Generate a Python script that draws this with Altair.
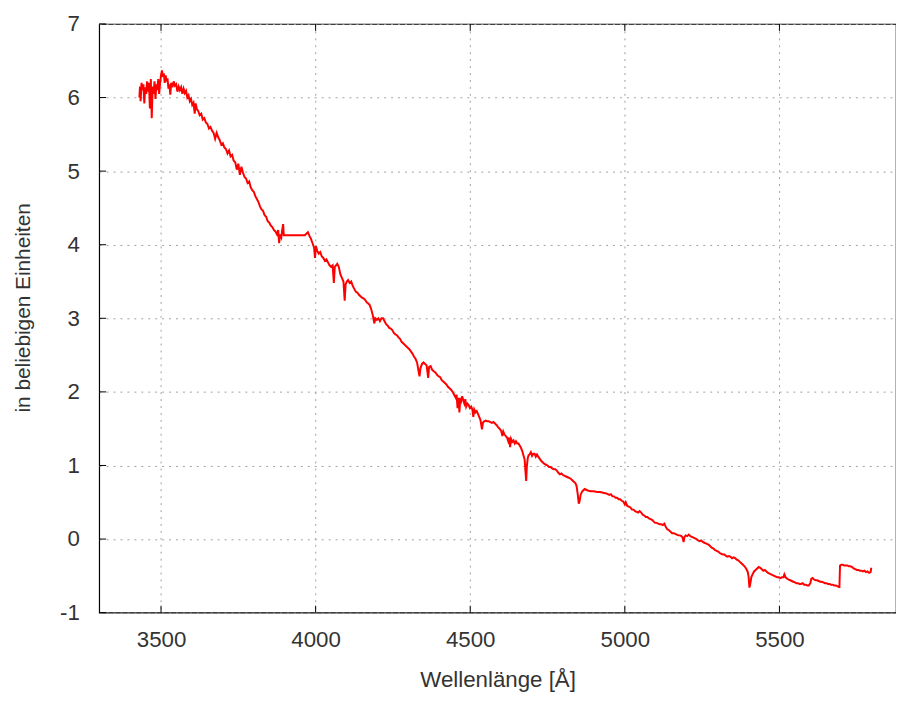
import altair as alt
import pandas as pd

wavelength = [
    3430, 3432, 3434, 3437, 3440, 3443, 3446, 3449, 3452, 3455, 3458, 3461, 3464, 3467, 3470,
    3473, 3476, 3479, 3482, 3485, 3488, 3491, 3494, 3497, 3500, 3503, 3506, 3509, 3512, 3515,
    3518, 3521, 3524, 3527, 3530, 3533, 3537, 3541, 3545, 3549, 3553, 3557, 3561, 3565, 3569,
    3573, 3577, 3581, 3585, 3589, 3593, 3597, 3601, 3605, 3609, 3612, 3616, 3620, 3625, 3630,
    3635, 3640, 3645, 3650, 3655, 3660, 3665, 3670, 3675, 3680, 3685, 3690, 3695, 3700, 3705,
    3710, 3715, 3720, 3725, 3730, 3735, 3740, 3745, 3750, 3755, 3760, 3765, 3770, 3775, 3780,
    3785, 3790, 3795, 3800, 3805, 3810, 3815, 3820, 3825, 3830, 3835, 3840, 3845, 3850, 3855,
    3860, 3865, 3870, 3875, 3879, 3882, 3885, 3889, 3892, 3895, 3897, 3900, 3965, 3970, 3975,
    3980, 3985, 3990, 3995, 3998, 4001, 4005, 4010, 4015, 4020, 4025, 4030, 4035, 4040, 4045,
    4050, 4055, 4059, 4062, 4066, 4070, 4075, 4080, 4085, 4090, 4094, 4097, 4101, 4105, 4110,
    4115, 4120, 4125, 4130, 4135, 4140, 4145, 4150, 4155, 4160, 4165, 4170, 4175, 4180, 4185,
    4190, 4193, 4198, 4203, 4208, 4213, 4218, 4223, 4228, 4233, 4238, 4243, 4248, 4253, 4258,
    4263, 4268, 4273, 4278, 4283, 4288, 4293, 4298, 4303, 4308, 4313, 4318, 4323, 4328, 4333,
    4336, 4339, 4344, 4349, 4354, 4359, 4364, 4367, 4372, 4377, 4382, 4388, 4393, 4398, 4403,
    4408, 4413, 4418, 4423, 4428, 4433, 4438, 4443, 4448, 4453, 4456, 4459, 4462, 4465, 4468,
    4471, 4474, 4478, 4481, 4484, 4487, 4491, 4495, 4499, 4503, 4507, 4510, 4513, 4517, 4521,
    4525, 4529, 4533, 4538, 4541, 4545, 4550, 4555, 4560, 4565, 4570, 4575, 4580, 4585, 4590,
    4595, 4600, 4604, 4607, 4611, 4615, 4619, 4623, 4626, 4629, 4632, 4636, 4640, 4644, 4648,
    4652, 4656, 4660, 4664, 4668, 4672, 4676, 4679, 4681, 4683, 4686, 4689, 4692, 4696, 4700,
    4704, 4708, 4712, 4716, 4720, 4725, 4730, 4735, 4740, 4745, 4750, 4755, 4760, 4765, 4770,
    4775, 4780, 4785, 4790, 4795, 4800, 4805, 4810, 4815, 4820, 4825, 4830, 4835, 4840, 4844,
    4848, 4851, 4854, 4857, 4861, 4865, 4870, 4875, 4880, 4890, 4900, 4910, 4920, 4930, 4940,
    4950, 4955, 4960, 4965, 4970, 4975, 4980, 4985, 4990, 4995, 5000, 5003, 5008, 5013, 5018,
    5023, 5028, 5033, 5038, 5043, 5048, 5053, 5058, 5063, 5068, 5073, 5078, 5083, 5088, 5093,
    5098, 5103, 5108, 5113, 5118, 5123, 5128, 5133, 5138, 5143, 5148, 5153, 5158, 5163, 5168,
    5173, 5178, 5183, 5187, 5190, 5193, 5197, 5202, 5207, 5212, 5217, 5222, 5227, 5232, 5237,
    5242, 5247, 5252, 5257, 5262, 5267, 5272, 5277, 5282, 5287, 5292, 5297, 5302, 5307, 5312,
    5317, 5322, 5327, 5332, 5337, 5342, 5347, 5352, 5357, 5362, 5367, 5372, 5377, 5382, 5387,
    5392, 5397, 5400, 5403, 5406, 5409, 5413, 5418, 5423, 5428, 5433, 5438, 5443, 5448, 5453,
    5458, 5463, 5468, 5473, 5478, 5483, 5488, 5493, 5498, 5503, 5508, 5513, 5516, 5520, 5525,
    5530, 5535, 5540, 5545, 5550, 5555, 5560, 5565, 5570, 5575, 5580, 5585, 5590, 5595, 5600,
    5603, 5607, 5612, 5617, 5622, 5627, 5632, 5637, 5642, 5647, 5652, 5657, 5662, 5667, 5672,
    5677, 5682, 5687, 5692, 5694, 5696, 5700, 5705, 5710, 5715, 5720, 5725, 5730, 5735, 5740,
    5745, 5750, 5755, 5760, 5765, 5770, 5775, 5780, 5785, 5790, 5795, 5797,
]

flux = [
    6.00, 6.15, 5.95, 6.20, 6.10, 6.18, 5.92, 6.14, 6.05, 6.22, 6.08, 6.20, 5.85, 6.25, 5.72,
    6.15, 6.05, 6.22, 5.98, 6.18, 6.10, 6.25, 6.05, 6.20, 6.30, 6.37, 6.28, 6.33, 6.20, 6.30,
    6.22, 6.26, 6.12, 6.18, 6.04, 6.20, 6.14, 6.22, 6.16, 6.18, 6.08, 6.15, 6.10, 6.14, 6.05,
    6.12, 6.06, 6.09, 6.00, 6.03, 5.95, 5.98, 5.90, 5.93, 5.78, 5.92, 5.84, 5.82, 5.76, 5.78,
    5.70, 5.72, 5.66, 5.64, 5.58, 5.60, 5.55, 5.52, 5.44, 5.52, 5.46, 5.42, 5.36, 5.38, 5.32,
    5.30, 5.24, 5.28, 5.20, 5.22, 5.14, 5.12, 5.02, 5.10, 4.95, 5.06, 4.98, 4.92, 4.90, 4.84,
    4.86, 4.78, 4.74, 4.72, 4.66, 4.62, 4.58, 4.52, 4.48, 4.46, 4.40, 4.38, 4.32, 4.30, 4.26,
    4.24, 4.20, 4.18, 4.14, 4.20, 4.02, 4.14, 4.10, 4.20, 4.28, 4.13, 4.13, 4.13, 4.15, 4.17,
    4.12, 4.08, 4.02, 3.96, 3.82, 3.98, 3.92, 3.88, 3.90, 3.84, 3.82, 3.78, 3.80, 3.76, 3.72,
    3.70, 3.72, 3.48, 3.70, 3.72, 3.74, 3.70, 3.60, 3.55, 3.50, 3.24, 3.46, 3.50, 3.52, 3.48,
    3.50, 3.44, 3.40, 3.36, 3.35, 3.32, 3.30, 3.28, 3.27, 3.25, 3.22, 3.20, 3.18, 3.12, 3.04,
    2.93, 3.00, 2.98, 3.00, 2.96, 3.00, 3.00, 2.96, 2.92, 2.90, 2.87, 2.86, 2.84, 2.80, 2.78,
    2.77, 2.74, 2.72, 2.68, 2.66, 2.64, 2.62, 2.60, 2.58, 2.55, 2.52, 2.48, 2.45, 2.40, 2.28,
    2.21, 2.32, 2.38, 2.40, 2.38, 2.36, 2.19, 2.34, 2.35, 2.30, 2.28, 2.26, 2.23, 2.21, 2.20,
    2.16, 2.14, 2.12, 2.10, 2.07, 2.05, 2.03, 2.00, 1.96, 1.92, 1.96, 1.78, 1.92, 1.72, 1.92,
    1.88, 1.94, 1.88, 1.84, 1.90, 1.80, 1.84, 1.82, 1.78, 1.80, 1.76, 1.66, 1.76, 1.72, 1.74,
    1.70, 1.66, 1.62, 1.49, 1.58, 1.60, 1.61, 1.60, 1.60, 1.59, 1.58, 1.59, 1.57, 1.55, 1.52,
    1.50, 1.47, 1.40, 1.46, 1.42, 1.40, 1.38, 1.33, 1.38, 1.25, 1.36, 1.32, 1.34, 1.30, 1.33,
    1.30, 1.30, 1.27, 1.24, 1.20, 1.14, 1.08, 0.90, 0.79, 0.98, 1.10, 1.14, 1.15, 1.18, 1.13,
    1.16, 1.16, 1.12, 1.15, 1.12, 1.09, 1.06, 1.04, 1.02, 1.01, 1.00, 0.98, 0.98, 0.96, 0.95,
    0.95, 0.93, 0.90, 0.88, 0.89, 0.87, 0.86, 0.85, 0.84, 0.83, 0.82, 0.80, 0.78, 0.76, 0.72,
    0.60, 0.48, 0.52, 0.60, 0.64, 0.66, 0.68, 0.67, 0.66, 0.65, 0.65, 0.64, 0.64, 0.63, 0.62,
    0.60, 0.61, 0.58, 0.58, 0.56, 0.56, 0.54, 0.54, 0.52, 0.51, 0.47, 0.50, 0.45, 0.44, 0.43,
    0.40, 0.40, 0.38, 0.37, 0.36, 0.38, 0.36, 0.33, 0.32, 0.30, 0.30, 0.28, 0.27, 0.26, 0.24,
    0.22, 0.22, 0.21, 0.20, 0.20, 0.19, 0.21, 0.16, 0.13, 0.12, 0.10, 0.08, 0.08, 0.07, 0.06,
    0.05, 0.05, 0.04, 0.02, -0.04, 0.03, 0.05, 0.04, 0.06, 0.04, 0.03, 0.02, 0.01, 0.00, -0.02,
    -0.03, -0.02, -0.04, -0.05, -0.06, -0.07, -0.08, -0.10, -0.12, -0.13, -0.15, -0.16, -0.17, -0.19, -0.20,
    -0.21, -0.21, -0.23, -0.24, -0.23, -0.24, -0.26, -0.25, -0.26, -0.28, -0.29, -0.31, -0.33, -0.35, -0.37,
    -0.40, -0.44, -0.50, -0.66, -0.60, -0.52, -0.48, -0.44, -0.42, -0.40, -0.38, -0.39, -0.41, -0.43, -0.42,
    -0.44, -0.46, -0.47, -0.48, -0.49, -0.50, -0.51, -0.52, -0.52, -0.53, -0.52, -0.52, -0.48, -0.52, -0.54,
    -0.55, -0.56, -0.57, -0.58, -0.59, -0.60, -0.60, -0.61, -0.61, -0.60, -0.62, -0.62, -0.63, -0.63, -0.60,
    -0.54, -0.53, -0.55, -0.56, -0.56, -0.57, -0.58, -0.58, -0.59, -0.60, -0.60, -0.61, -0.61, -0.62, -0.62,
    -0.63, -0.63, -0.64, -0.65, -0.65, -0.36, -0.35, -0.35, -0.36, -0.36, -0.36, -0.37, -0.37, -0.38, -0.40,
    -0.41, -0.42, -0.42, -0.43, -0.43, -0.44, -0.43, -0.45, -0.44, -0.46, -0.45, -0.39,
]

x_ticks = [3500, 4000, 4500, 5000, 5500]
y_ticks = [-1, 0, 1, 2, 3, 4, 5, 6, 7]

FONT = "Liberation Sans"
TEXT = "#333333"
GRID = "#a0a0a0"

df = pd.DataFrame({"wl": wavelength, "flux": flux})
xt = pd.DataFrame({"v": x_ticks})
yt = pd.DataFrame({"v": y_ticks})

xscale = alt.Scale(domain=[3300, 5877], nice=False, zero=False)
yscale = alt.Scale(domain=[-1, 7], nice=False, zero=False)

W, H = 804, 594

line = alt.Chart(df).mark_line(color="#ff0000", strokeWidth=2, clip=True).encode(
    x=alt.X(
        "wl:Q",
        scale=xscale,
        axis=alt.Axis(
            values=x_ticks,
            labelExpr="'' + datum.value",
            title="Wellenlänge [Å]",
            grid=True,
            gridDash=[2, 5],
            gridColor=GRID,
            gridWidth=1,
            ticks=False,
            domain=False,
            labelPadding=16,
            labelFontSize=22.5,
            labelFont=FONT,
            labelColor=TEXT,
            titleFont=FONT,
            titleFontSize=22.5,
            titleFontWeight="normal",
            titleColor=TEXT,
            titleY=75,
            titleBaseline="alphabetic",
        ),
    ),
    y=alt.Y(
        "flux:Q",
        scale=yscale,
        axis=alt.Axis(
            values=y_ticks,
            labelExpr="'' + datum.value",
            title="in beliebigen Einheiten",
            grid=True,
            gridDash=[2, 5],
            gridColor=GRID,
            gridWidth=1,
            ticks=False,
            domain=False,
            labelPadding=20,
            labelFontSize=22.5,
            labelFont=FONT,
            labelColor=TEXT,
            titleFont=FONT,
            titleFontSize=21,
            titleFontWeight="normal",
            titleColor=TEXT,
            titleX=-70,
            titleY=286,
            titleAngle=-90,
            titleAlign="center",
            titleBaseline="alphabetic",
        ),
    ),
)

left_ticks = alt.Chart(yt).mark_rule(color="black", strokeWidth=1).encode(
    y=alt.Y("v:Q", scale=yscale),
    x=alt.value(0),
    x2=alt.value(7),
)
bottom_ticks = alt.Chart(xt).mark_rule(color="black", strokeWidth=1).encode(
    x=alt.X("v:Q", scale=xscale),
    y=alt.value(H),
    y2=alt.value(H - 7),
)
top_ticks = alt.Chart(xt).mark_rule(color="black", strokeWidth=1).encode(
    x=alt.X("v:Q", scale=xscale),
    y=alt.value(0),
    y2=alt.value(7),
)

chart = (
    alt.layer(line, left_ticks, bottom_ticks, top_ticks)
    .properties(
        width=W,
        height=H,
        autosize=alt.AutoSizeParams(type="none"),
        padding={"left": 92, "top": 13, "right": 0, "bottom": 79},
        background="white",
    )
    .configure_view(stroke="black", strokeWidth=1.2)
)

chart.save("out.html", embed_options={"renderer": "svg", "actions": False})
